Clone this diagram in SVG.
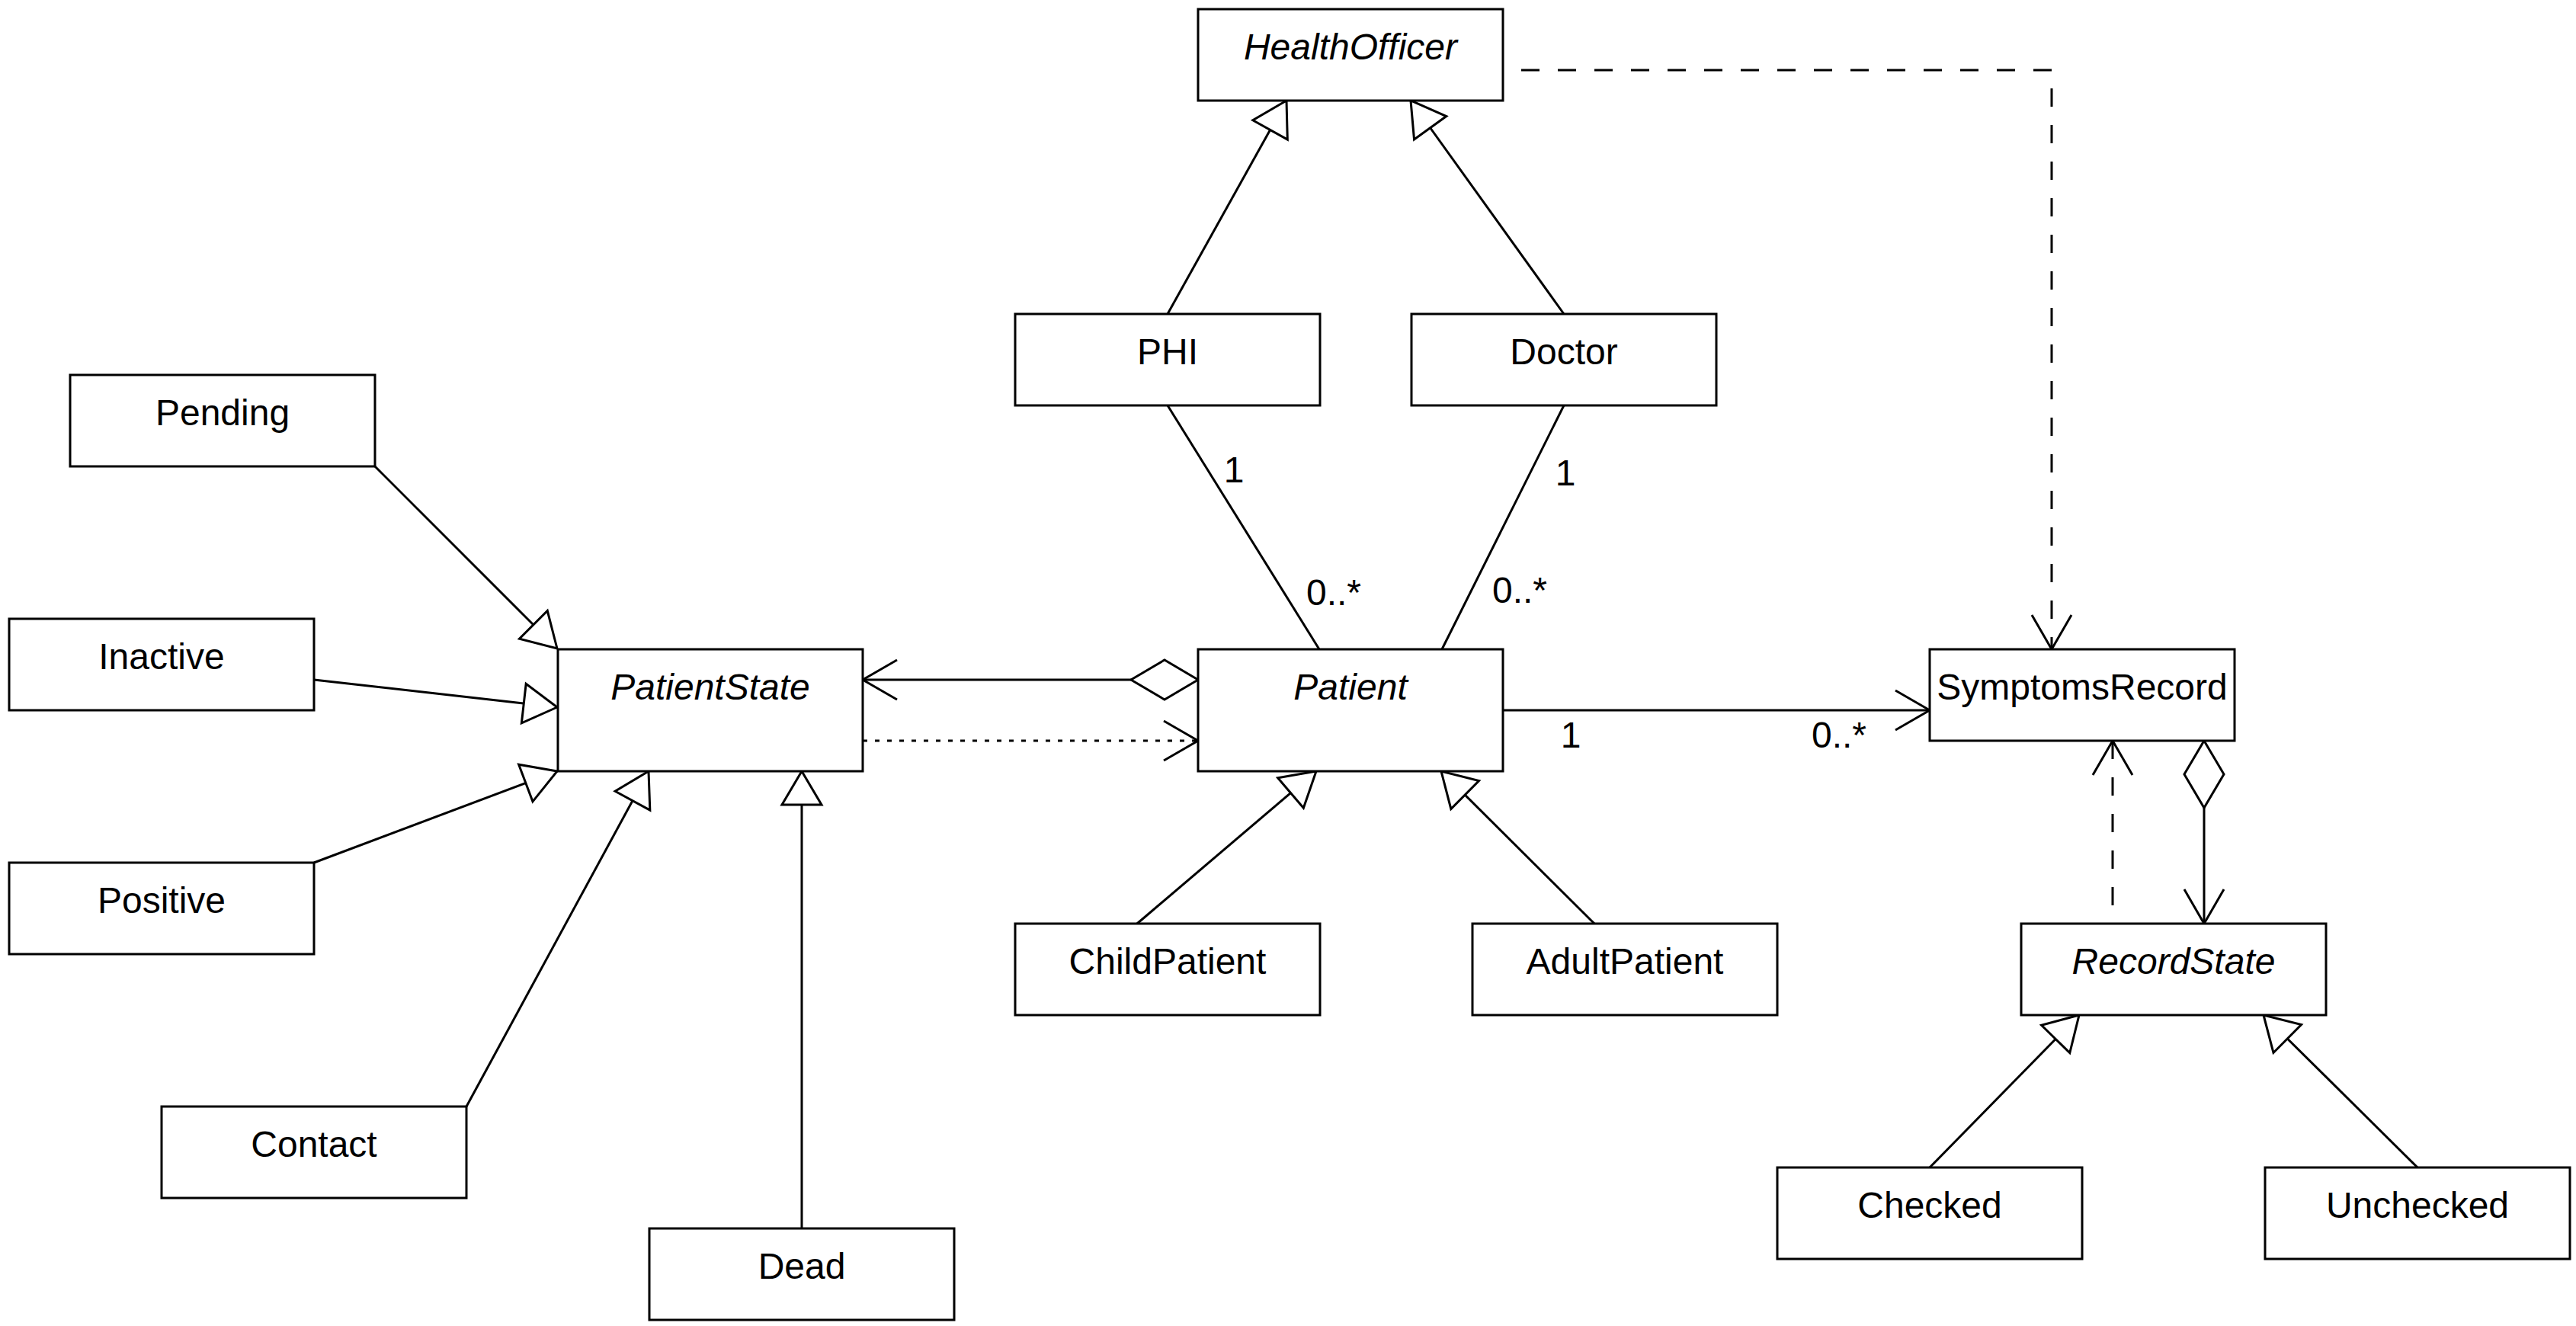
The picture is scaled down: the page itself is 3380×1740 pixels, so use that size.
<svg xmlns="http://www.w3.org/2000/svg" width="3380" height="1740" viewBox="0 0 3380 1740">
  <style>
    .cls rect { fill: #ffffff; stroke: #000000; stroke-width: 3; }
    .cls text { font-family: "Liberation Sans", Arial, sans-serif; font-size: 48px; text-anchor: middle; fill: #000000; }
    .abstract text { font-style: italic; }
    .edge { fill: none; stroke: #000000; stroke-width: 3; }
    .dashed { stroke-dasharray: 24 24; stroke-dashoffset: 24; }
    .dotted { stroke-dasharray: 6 10; }
    .mult { font-family: "Liberation Sans", Arial, sans-serif; font-size: 48px; fill: #000000; }
    .mult-c { text-anchor: middle; }
    .head { stroke: #000000; stroke-width: 3; stroke-dasharray: none; }
  </style>
  <defs>
    <!-- hollow triangle: generalization -->
    <marker id="gen" markerUnits="userSpaceOnUse" viewBox="-50 -30 54 60" refX="0" refY="0" markerWidth="54" markerHeight="60" orient="auto" overflow="visible">
      <path class="head" d="M 0 0 L -44 -26 L -44 26 Z" fill="#ffffff"/>
    </marker>
    <!-- open arrow: navigable association / dependency -->
    <marker id="open" markerUnits="userSpaceOnUse" viewBox="-50 -30 54 60" refX="0" refY="0" markerWidth="54" markerHeight="60" orient="auto" overflow="visible">
      <path class="head" d="M -45 -26 L 0 0 L -45 26" fill="none"/>
    </marker>
    <!-- hollow diamond: aggregation (used at path start) -->
    <marker id="agg" markerUnits="userSpaceOnUse" viewBox="-4 -30 96 60" refX="0" refY="0" markerWidth="96" markerHeight="60" orient="auto" overflow="visible">
      <path class="head" d="M 0 0 L 44 -26 L 88 0 L 44 26 Z" fill="#ffffff"/>
    </marker>
  </defs>

  <g id="connectors">
    <path class="edge" d="M 1532 412 L 1688 132" marker-end="url(#gen)"/>
    <path class="edge" d="M 2052 412 L 1851 132" marker-end="url(#gen)"/>
    <path class="edge dashed" d="M 1972 92 H 2692 V 852" marker-end="url(#open)"/>
    <path class="edge" d="M 1532 532 L 1731 852"/>
    <path class="edge" d="M 2052 532 L 1892 852"/>
    <path class="edge" d="M 1572 892 L 1132 892" marker-start="url(#agg)" marker-end="url(#open)"/>
    <path class="edge dotted" d="M 1132 972 L 1572 972" marker-end="url(#open)"/>
    <path class="edge" d="M 1972 932 L 2532 932" marker-end="url(#open)"/>
    <path class="edge" d="M 1492 1212 L 1727 1012" marker-end="url(#gen)"/>
    <path class="edge" d="M 2092 1212 L 1891 1012" marker-end="url(#gen)"/>
    <path class="edge" d="M 492 612 L 731 851" marker-end="url(#gen)"/>
    <path class="edge" d="M 412 892 L 731 928" marker-end="url(#gen)"/>
    <path class="edge" d="M 412 1132 L 731 1012" marker-end="url(#gen)"/>
    <path class="edge" d="M 612 1452 L 851 1012" marker-end="url(#gen)"/>
    <path class="edge" d="M 1052 1612 L 1052 1012" marker-end="url(#gen)"/>
    <path class="edge dashed" d="M 2772 1212 L 2772 972" marker-end="url(#open)"/>
    <path class="edge" d="M 2892 972 L 2892 1212" marker-start="url(#agg)" marker-end="url(#open)"/>
    <path class="edge" d="M 2532 1532 L 2728 1332" marker-end="url(#gen)"/>
    <path class="edge" d="M 3172 1532 L 2970 1332" marker-end="url(#gen)"/>

    <!-- multiplicities -->
    <text class="mult mult-c" x="1619" y="633">1</text>
    <text class="mult" x="1714" y="794">0..*</text>
    <text class="mult mult-c" x="2054" y="637">1</text>
    <text class="mult" x="1958" y="791">0..*</text>
    <text class="mult mult-c" x="2061" y="981">1</text>
    <text class="mult" x="2377" y="981">0..*</text>
  </g>

  <g id="HealthOfficer" class="cls abstract"><rect x="1572" y="12" width="400" height="120"/><text x="1772" y="78">HealthOfficer</text></g>
  <g id="PHI" class="cls"><rect x="1332" y="412" width="400" height="120"/><text x="1532" y="478">PHI</text></g>
  <g id="Doctor" class="cls"><rect x="1852" y="412" width="400" height="120"/><text x="2052" y="478">Doctor</text></g>
  <g id="Pending" class="cls"><rect x="92" y="492" width="400" height="120"/><text x="292" y="558">Pending</text></g>
  <g id="Inactive" class="cls"><rect x="12" y="812" width="400" height="120"/><text x="212" y="878">Inactive</text></g>
  <g id="PatientState" class="cls abstract"><rect x="732" y="852" width="400" height="160"/><text x="932" y="918">PatientState</text></g>
  <g id="Patient" class="cls abstract"><rect x="1572" y="852" width="400" height="160"/><text x="1772" y="918">Patient</text></g>
  <g id="SymptomsRecord" class="cls"><rect x="2532" y="852" width="400" height="120"/><text x="2732" y="918">SymptomsRecord</text></g>
  <g id="Positive" class="cls"><rect x="12" y="1132" width="400" height="120"/><text x="212" y="1198">Positive</text></g>
  <g id="ChildPatient" class="cls"><rect x="1332" y="1212" width="400" height="120"/><text x="1532" y="1278">ChildPatient</text></g>
  <g id="AdultPatient" class="cls"><rect x="1932" y="1212" width="400" height="120"/><text x="2132" y="1278">AdultPatient</text></g>
  <g id="RecordState" class="cls abstract"><rect x="2652" y="1212" width="400" height="120"/><text x="2852" y="1278">RecordState</text></g>
  <g id="Contact" class="cls"><rect x="212" y="1452" width="400" height="120"/><text x="412" y="1518">Contact</text></g>
  <g id="Dead" class="cls"><rect x="852" y="1612" width="400" height="120"/><text x="1052" y="1678">Dead</text></g>
  <g id="Checked" class="cls"><rect x="2332" y="1532" width="400" height="120"/><text x="2532" y="1598">Checked</text></g>
  <g id="Unchecked" class="cls"><rect x="2972" y="1532" width="400" height="120"/><text x="3172" y="1598">Unchecked</text></g>
</svg>
